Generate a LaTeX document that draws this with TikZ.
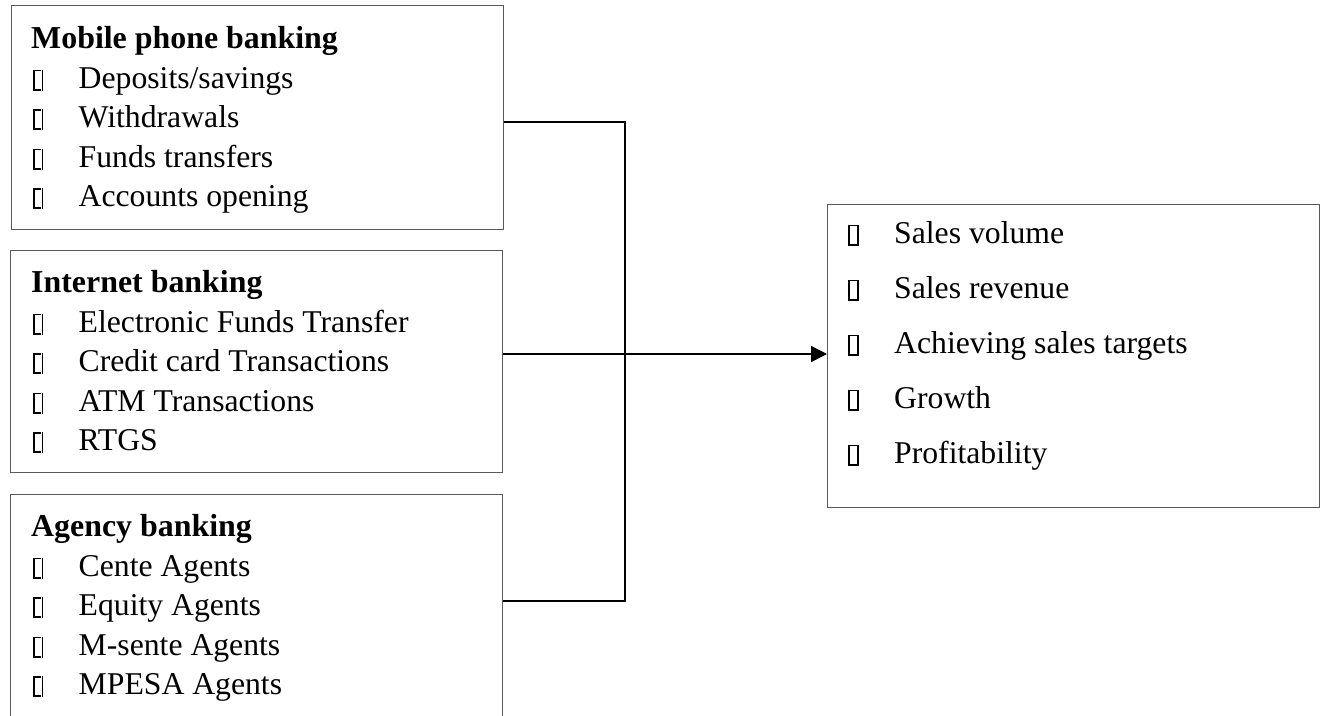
\documentclass[tikz,border=0pt]{standalone}
\usepackage{fontspec}
\setmainfont{Liberation Serif}
\usetikzlibrary{arrows.meta}
\newcommand\sqb{\hbox{\vrule width 1.8pt height 18.5pt depth 2.5pt\lower2.5pt\vbox to 21pt{\hrule height 1.8pt width 7pt\vfil\hrule height 1.8pt width 7pt}\vrule width 1.8pt height 18.5pt depth 2.5pt}}
\newcommand\itm[1]{\makebox[46pt][l]{\sqb}#1}
\tikzset{
 panel/.style={draw=black!65, line width=1pt, anchor=north west, inner sep=0pt},
 txt/.style={anchor=base west, inner sep=0pt, font=\fontsize{31.7}{38}\selectfont},
 head/.style={anchor=base west, inner sep=0pt, font=\fontsize{31.9}{38}\selectfont\bfseries},
 link/.style={line width=1.5pt, draw=black},
}
\begin{document}
\begin{tikzpicture}[x=1pt,y=-1pt]
\useasboundingbox (0,0) rectangle (1320,715);
\clip (0,0) rectangle (1320,715);
% panels
\node[panel, minimum width=492pt, minimum height=224pt] (mob) at (11,5) {};
\node[panel, minimum width=492pt, minimum height=222pt] (int) at (10,250) {};
\node[panel, minimum width=492pt, minimum height=240pt] (agy) at (10,494) {};
\node[panel, minimum width=492pt, minimum height=303pt] (out) at (827,204) {};
% mobile phone banking
\node[head] (mh) at (31,48) {Mobile phone banking};
\node[txt] (m1) at (32.5,88) {\itm{Deposits/savings}};
\node[txt] (m2) at (32.5,127.5) {\itm{Withdrawals}};
\node[txt] (m3) at (32.5,167) {\itm{Funds transfers}};
\node[txt] (m4) at (32.5,206.5) {\itm{Accounts opening}};
% internet banking
\node[head] (ih) at (31,292) {Internet banking};
\node[txt] (i1) at (32.5,332) {\itm{Electronic Funds Transfer}};
\node[txt] (i2) at (32.5,371.5) {\itm{Credit card Transactions}};
\node[txt] (i3) at (32.5,411) {\itm{ATM Transactions}};
\node[txt] (i4) at (32.5,450.5) {\itm{RTGS}};
% agency banking
\node[head] (ah) at (31,536) {Agency banking};
\node[txt] (a1) at (32.5,576) {\itm{Cente Agents}};
\node[txt] (a2) at (32.5,615.5) {\itm{Equity Agents}};
\node[txt] (a3) at (32.5,655) {\itm{M-sente Agents}};
\node[txt] (a4) at (32.5,694.5) {\itm{MPESA Agents}};
% outcomes
\node[txt] (r1) at (848,243) {\itm{Sales volume}};
\node[txt] (r2) at (848,298) {\itm{Sales revenue}};
\node[txt] (r3) at (848,353) {\itm{Achieving sales targets}};
\node[txt] (r4) at (848,408) {\itm{Growth}};
\node[txt] (r5) at (848,463) {\itm{Profitability}};
% connectors
\coordinate (jt) at (625,122);
\coordinate (jm) at (625,354);
\coordinate (jb) at (625,601);
\draw[link] (mob.east |- jt) -- (jt) -- (jb) -- (agy.east |- jb);
\draw[link,-{Triangle[length=16pt,width=16pt]}] (int.east |- jm) -- (out.west |- jm);
\end{tikzpicture}
\end{document}
